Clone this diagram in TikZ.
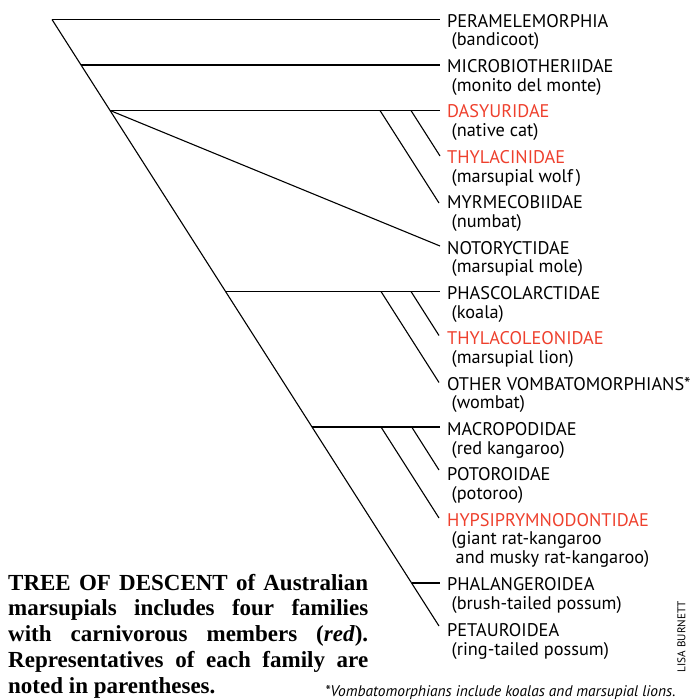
\documentclass[tikz,border=0pt]{standalone}
\usepackage{fontspec}
\setmainfont{Liberation Serif}
\newfontfamily\lblfont{PT Sans}
\definecolor{carn}{RGB}{238,64,45}
\begin{document}
\begin{tikzpicture}[x=1pt,y=-1pt,
  branch/.style={line width=1.1pt,black},
  leaf/.style={anchor=base west,inner sep=0pt,align=left,
    font=\lblfont\fontsize{18.3}{18.7}\selectfont},
  caption/.style={anchor=base west,inner sep=0pt,text width=360pt,align=justify,
    font=\bfseries\fontsize{23}{25.8}\selectfont},
  footnote/.style={anchor=base west,inner sep=0pt,font=\lblfont\itshape\fontsize{15.4}{17}\selectfont},
  credit/.style={inner sep=0pt,rotate=90,font=\lblfont\fontsize{11.2}{12}\selectfont},
  ]
\useasboundingbox (0,0) rectangle (695,700);
% tree points
\coordinate (root) at (52,19.5);
\coordinate (t2) at (81,65);
\coordinate (t3) at (110.1,110.5);
\coordinate (t7) at (225.5,291.5);
\coordinate (t10) at (312,427);
\coordinate (t13) at (411.5,583);
\coordinate (s4) at (411,110.5);
\coordinate (s5) at (380,110.5);
\coordinate (s8) at (411,291.5);
\coordinate (s9) at (381,291.5);
\coordinate (s11) at (411.7,427);
\coordinate (s12) at (381,427);
% leaf ends
\coordinate (l1) at (440,19.5);
\coordinate (l2) at (440,65);
\coordinate (l3) at (440,110.5);
\coordinate (l4) at (440,156);
\coordinate (l5) at (439,203);
\coordinate (l6) at (440,246);
\coordinate (l7) at (440,291.5);
\coordinate (l8) at (439,335.5);
\coordinate (l9) at (439,382.5);
\coordinate (l10) at (440,427);
\coordinate (l11) at (439,470);
\coordinate (l12) at (439,518);
\coordinate (l13) at (440,583);
\coordinate (l14) at (439,626);
% branches
\draw[branch] (root) -- (l1);
\draw[branch] (root) -- (l14);
\draw[branch] (t2) -- (l2);
\draw[branch] (t3) -- (l3);
\draw[branch] (s4) -- (l4);
\draw[branch] (s5) -- (l5);
\draw[branch] (t3) -- (l6);
\draw[branch] (t7) -- (l7);
\draw[branch] (s8) -- (l8);
\draw[branch] (s9) -- (l9);
\draw[branch] (t10) -- (l10);
\draw[branch] (s11) -- (l11);
\draw[branch] (s12) -- (l12);
\draw[branch] (t13) -- (l13);
% labels (anchor = baseline of last line)
\node[leaf] (n1) at (447,46.0) {PERAMELEMORPHIA\\\hspace*{4.5pt}(bandicoot)};
\node[leaf] (n2) at (447,91.35) {MICROBIOTHERIIDAE\\\hspace*{4.5pt}(monito del monte)};
\node[leaf] (n3) at (447,136.7) {\textcolor{carn}{DASYURIDAE}\\\hspace*{4.5pt}(native cat)};
\node[leaf] (n4) at (447,182.05) {\textcolor{carn}{THYLACINIDAE}\\\hspace*{4.5pt}(marsupial wolf\,)};
\node[leaf] (n5) at (447,227.4) {MYRMECOBIIDAE\\\hspace*{4.5pt}(numbat)};
\node[leaf] (n6) at (447,272.75) {NOTORYCTIDAE\\\hspace*{4.5pt}(marsupial mole)};
\node[leaf] (n7) at (447,318.1) {PHASCOLARCTIDAE\\\hspace*{4.5pt}(koala)};
\node[leaf] (n8) at (447,363.45) {\textcolor{carn}{THYLACOLEONIDAE}\\\hspace*{4.5pt}(marsupial lion)};
\node[leaf] (n9) at (447,408.8) {OTHER VOMBATOMORPHIANS*\\\hspace*{4.5pt}(wombat)};
\node[leaf] (n10) at (447,454.15) {MACROPODIDAE\\\hspace*{4.5pt}(red kangaroo)};
\node[leaf] (n11) at (447,499.5) {POTOROIDAE\\\hspace*{4.5pt}(potoroo)};
\node[leaf] (n12) at (447,563.55) {\textcolor{carn}{HYPSIPRYMNODONTIDAE}\\\hspace*{4.5pt}(giant rat-kangaroo\\\hspace*{8.5pt}and musky rat-kangaroo)};
\node[leaf] (n13) at (447,609.4) {PHALANGEROIDEA\\\hspace*{4.5pt}(brush-tailed possum)};
\node[leaf] (n14) at (447,655.0) {PETAUROIDEA\\\hspace*{4.5pt}(ring-tailed possum)};
% caption (anchor = baseline of first line)
\node[caption] (cap) at (8,590) {TREE OF DESCENT of Australian\linebreak
marsupials includes four families\linebreak
with carnivorous members (\textit{red}).\linebreak
Representatives of each family are\linebreak
noted in parentheses.};
\node[footnote] (fn) at (325,696) {*Vombatomorphians include koalas and marsupial lions.};
\node[credit] (cr) at (681.5,636.5) {LISA BURNETT};
\end{tikzpicture}
\end{document}
